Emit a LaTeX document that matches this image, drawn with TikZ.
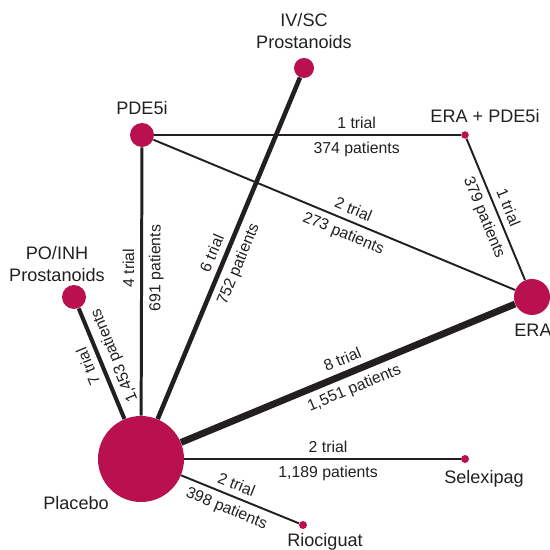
\documentclass[tikz,border=0pt]{standalone}
\usepackage{fontspec}
\setmainfont{Liberation Sans}
\definecolor{drug}{RGB}{185,16,80}
\definecolor{ink}{RGB}{35,31,32}
\tikzset{
  drugnode/.style={circle,fill=drug,inner sep=0pt,minimum size=#1},
  drugname/.style={align=center,text=ink,font=\fontsize{10.3}{12.5}\selectfont},
  trials/.style={text=ink,font=\fontsize{9}{11}\selectfont,sloped},
  link/.style={draw=ink,line width=#1}
}
\begin{document}
\begin{tikzpicture}[x=0.02cm,y=0.02cm]
            \useasboundingbox (0,0) rectangle (549,550);
            % Nodes with manual coordinates (pixel grid, y upwards)
            \node[drugnode=1.72cm] (placebo) at (141,91) {};
            \node[drugnode=0.48cm] (poinh) at (74,253) {};
            \node[drugnode=0.48cm] (pde) at (142,415) {};
            \node[drugnode=0.40cm] (ivsc) at (304,482) {};
            \node[drugnode=0.15cm] (erapde) at (465,415) {};
            \node[drugnode=0.72cm] (era) at (532,253) {};
            \node[drugnode=0.16cm] (selex) at (465,91) {};
            \node[drugnode=0.16cm] (rioc) at (303,25) {};

            % Names
            \node[drugname] (placebo-txt) at (76,47) {Placebo};
            \node[drugname] (poinh-txt) at (57,286) {PO/INH\\Prostanoids};
            \node[drugname] (pde-txt) at (142,442) {PDE5i};
            \node[drugname] (ivsc-txt) at (304,519) {IV/SC\\Prostanoids};
            \node[drugname] (erapde-txt) at (485,434) {ERA + PDE5i};
            \node[drugname] (era-txt) at (533,220) {ERA};
            \node[drugname] (selex-txt) at (484,71) {Selexipag};
            \node[drugname] (rioc-txt) at (325,8) {Riociguat};

            % Edges
            \draw[link=2.3pt] (placebo) -- node[trials,allow upside down,pos=0.52,above] {7 trial}
                node[trials,allow upside down,pos=0.52,below] {1,453 patients} (poinh);
            \draw[link=1.7pt] (placebo) -- node[trials,pos=0.55,above] {4 trial}
                node[trials,pos=0.55,below] {691 patients} (pde);
            \draw[link=2.6pt] (placebo) -- node[trials,pos=0.47,above] {6 trial}
                node[trials,pos=0.47,below] {752 patients} (ivsc);
            \draw[link=1.1pt] (pde) -- node[trials,pos=0.66,above] {1 trial}
                node[trials,pos=0.66,below] {374 patients} (erapde);
            \draw[link=1.1pt] (pde) -- node[trials,pos=0.54,above] {2 trial}
                node[trials,pos=0.54,below] {273 patients} (era);
            \draw[link=1.1pt] (erapde) -- node[trials,pos=0.52,above] {1 trial}
                node[trials,pos=0.52,below] {379 patients} (era);
            \draw[link=3.9pt] (placebo) -- node[trials,pos=0.5,above] {8 trial}
                node[trials,pos=0.5,below] {1,551 patients} (era);
            \draw[link=1.1pt] (placebo) -- node[trials,pos=0.52,above] {2 trial}
                node[trials,pos=0.52,below] {1,189 patients} (selex);
            \draw[link=1.1pt] (placebo) -- node[trials,pos=0.43,above] {2 trial}
                node[trials,pos=0.43,below] {398 patients} (rioc);
\end{tikzpicture}
\end{document}
